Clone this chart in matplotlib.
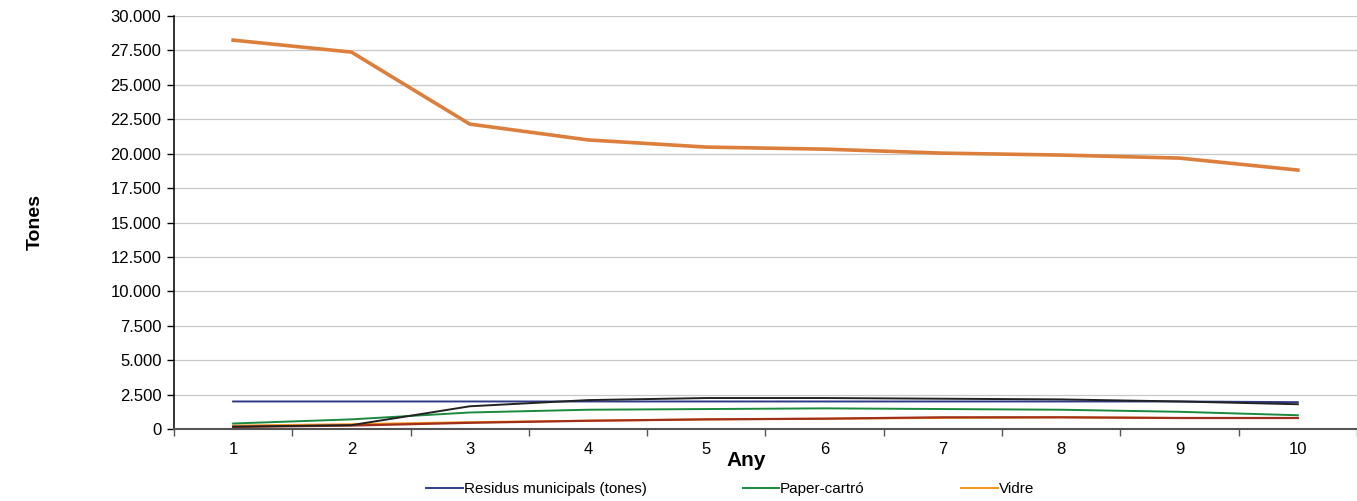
import matplotlib
matplotlib.use("Agg")
import matplotlib.pyplot as plt
from matplotlib.ticker import FuncFormatter, FixedLocator, NullFormatter

plt.rcParams['font.family'] = ['Liberation Sans', 'DejaVu Sans']

years = [1, 2, 3, 4, 5, 6, 7, 8, 9, 10]
residus = [2000, 2000, 2000, 2000, 2000, 2000, 2000, 2000, 2000, 1950]
paper = [400, 700, 1200, 1400, 1450, 1500, 1450, 1400, 1250, 1000]
vidre = [250, 350, 500, 600, 700, 750, 800, 850, 800, 800]
serie_negra = [170, 280, 1650, 2100, 2250, 2250, 2200, 2150, 2000, 1800]
serie_vermella = [150, 250, 450, 600, 700, 750, 850, 850, 800, 800]
serie_gran = [28250, 27380, 22150, 21000, 20480, 20330, 20040, 19900, 19680, 18810]

fig = plt.figure(figsize=(13.57, 5.01), dpi=100)
ax = fig.add_axes([0.1282, 0.1437, 0.8718, 0.8243])

ax.plot(years, serie_gran, color='#DC7F3C', lw=2.6, zorder=3)
ax.plot(years, serie_vermella, color='#A0301A', lw=1.6, zorder=3)
ax.plot(years, vidre, color='#F7931E', lw=1.4, label='Vidre', zorder=2)
ax.plot(years, paper, color='#1A8A3E', lw=1.4, label='Paper-cartró', zorder=3)
ax.plot(years, residus, color='#2E3A87', lw=1.4, label='Residus municipals (tones)', zorder=3)
ax.plot(years, serie_negra, color='#222222', lw=1.4, zorder=4)

ax.set_xlim(0.5, 10.5)
ax.set_ylim(0, 30000)
ax.set_yticks(range(0, 30001, 2500))
ax.yaxis.set_major_formatter(FuncFormatter(lambda v, p: f"{int(v):,}".replace(",", ".")))
ax.xaxis.set_major_locator(FixedLocator([x + 0.5 for x in range(0, 11)]))
ax.xaxis.set_major_formatter(NullFormatter())
ax.xaxis.set_minor_locator(FixedLocator(years))
ax.xaxis.set_minor_formatter(FuncFormatter(lambda v, p: str(int(round(v)))))
ax.tick_params(axis='x', which='minor', length=0, pad=9.5, labelsize=12)
ax.tick_params(axis='x', which='major', length=5, width=1, color='#555555')
ax.tick_params(axis='y', length=5, width=1, labelsize=12, pad=4)

ax.grid(axis='y', color='#C8C8C8', lw=0.9)
ax.set_axisbelow(True)
for s in ['top', 'right']:
    ax.spines[s].set_visible(False)
ax.spines['left'].set_color('#111111')
ax.spines['left'].set_linewidth(1.2)
ax.spines['bottom'].set_color('#555555')
ax.spines['bottom'].set_linewidth(1.5)

fig.text(0.0262, 0.557, 'Tones', rotation=90, fontsize=14, fontweight='bold', ha='center', va='center')
fig.text(0.5497, 0.080, 'Any', fontsize=15, fontweight='bold', ha='center', va='center')

handles, labels = ax.get_legend_handles_labels()
order = [2, 1, 0]
fig.legend([handles[i] for i in order], [labels[i] for i in order], loc='center',
           bbox_to_anchor=(0.538, 0.024), ncol=3, frameon=False, fontsize=11,
           handlelength=2.4, handletextpad=0.05, columnspacing=6.3,
           borderpad=0, borderaxespad=0)

fig.savefig('out.png', dpi=100)
